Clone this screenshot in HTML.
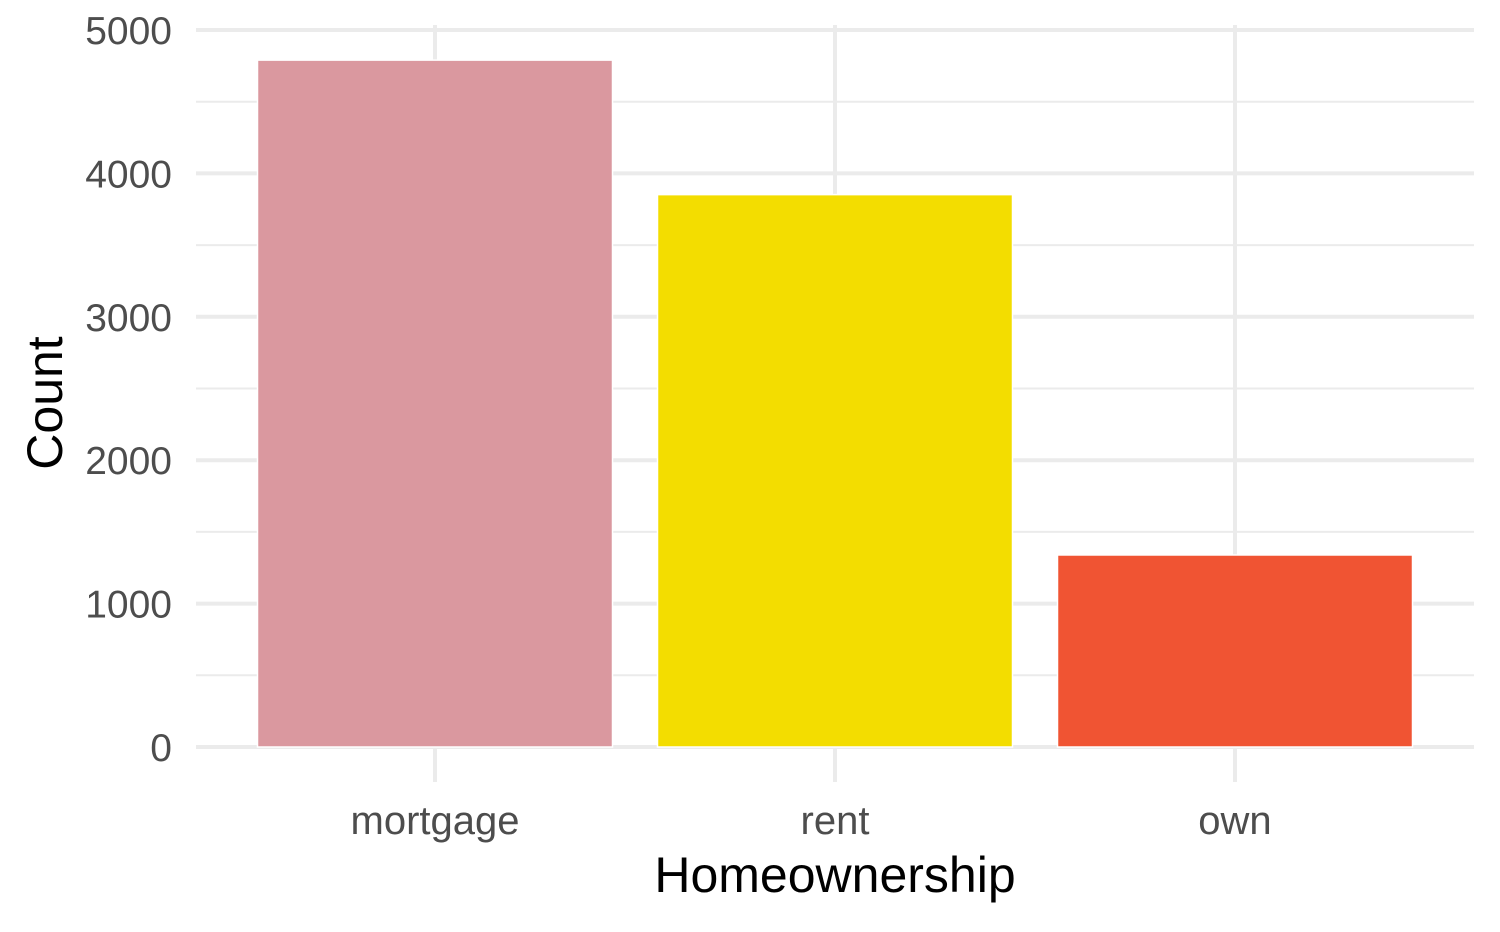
<!DOCTYPE html>
<html><head><meta charset="utf-8"><style>
html,body{margin:0;padding:0;background:#fff}
svg text{font-family:"Liberation Sans",Arial,sans-serif}
</style></head><body>
<svg id="chart" width="1500" height="927" viewBox="0 0 1500 927" xmlns="http://www.w3.org/2000/svg">
<g id="grid"></g>
<g id="bars"></g>
<g id="yticks"></g>
<g id="xticks"></g>
<text x="835" y="892" font-size="50" text-anchor="middle" fill="#000">Homeownership</text>
<text transform="translate(62,403) rotate(-90)" font-size="50" text-anchor="middle" fill="#000">Count</text>
</svg>
<script>
const categories = ["mortgage","rent","own"];
const counts = [4790, 3852, 1339];
const colors = ["#da989f","#f3dd00","#f05433"];
const yTicks = [0,1000,2000,3000,4000,5000];
const yTickLabels = ["0","1000","2000","3000","4000","5000"];

const NS="http://www.w3.org/2000/svg";
const x0=196,x1=1474,y0=747,yTop=30,yMax=5000;
const band=400, barW=355, firstCenter=435;
const y=v=>y0-(v/yMax)*(y0-yTop);
const xc=i=>firstCenter+i*band;
function mk(tag,attrs,parent){const e=document.createElementNS(NS,tag);for(const k in attrs)e.setAttribute(k,attrs[k]);parent.appendChild(e);return e;}
const grid=document.getElementById('grid'),bars=document.getElementById('bars'),yt=document.getElementById('yticks'),xt=document.getElementById('xticks');
for(let i=0;i<yTicks.length;i++){
  if(i<yTicks.length-1){const m=mk('line',{x1:x0,x2:x1,y1:y((yTicks[i]+yTicks[i+1])/2),y2:y((yTicks[i]+yTicks[i+1])/2),stroke:'#ebebeb','stroke-width':2},grid);
  
  }
  const l=mk('line',{x1:x0,x2:x1,y1:y(yTicks[i]),y2:y(yTicks[i]),stroke:'#ebebeb','stroke-width':4},grid);
  
  
  const t=mk('text',{x:172,y:y(yTicks[i])+14,'font-size':39,'text-anchor':'end',fill:'#4d4d4d'},yt);
  t.textContent=yTickLabels[i];
  
  
}
categories.forEach((c,i)=>{
  const v=mk('line',{x1:xc(i),x2:xc(i),y1:25,y2:782,stroke:'#ebebeb','stroke-width':4},grid);
  
  
  const r=mk('rect',{x:xc(i)-barW/2,y:y(counts[i]),width:barW,height:y0-y(counts[i]),fill:colors[i],stroke:'#fff','stroke-width':1.5},bars);
  
  
  const t=mk('text',{x:xc(i),y:834,'font-size':40,'text-anchor':'middle',fill:'#4d4d4d'},xt);
  t.textContent=c;
  
  
});
</script>
</body></html>
